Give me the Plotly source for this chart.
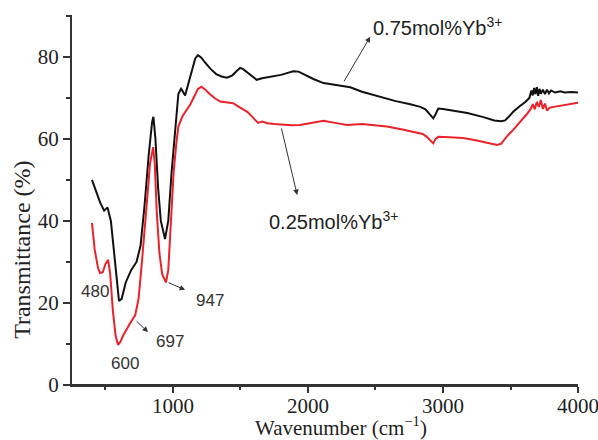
import plotly.graph_objects as go

# 0.75 mol% Yb3+ (black)
wn_black = [400, 430, 460, 490, 515, 540, 570, 600, 620, 650, 690, 730, 760, 790, 820, 845, 855, 870, 890, 910,
            941, 965, 990, 1020, 1040, 1060, 1075, 1090, 1110, 1140, 1165, 1185, 1210, 1240, 1280, 1320, 1360, 1400,
            1440, 1470, 1497, 1520, 1550, 1580, 1620, 1660, 1700, 1750, 1800, 1850, 1890, 1930, 1980, 2040,
            2115, 2200, 2313, 2400, 2535, 2650, 2750, 2832, 2870, 2900, 2928, 2945, 2965, 3000, 3100, 3180,
            3300, 3380, 3430, 3460, 3490, 3520, 3570, 3610, 3640, 3655, 3665, 3675, 3685, 3695, 3705, 3715,
            3725, 3740, 3755, 3770, 3785, 3800, 3830, 3870, 3900, 3950, 4000]
t_black = [50.0, 47.0, 44.5, 42.5, 43.3, 40.0, 30.0, 20.5, 21.0, 25.0, 28.0, 30.0, 34.0, 44.0, 56.0, 64.0, 65.4, 60.0, 48.0, 40.0,
           35.6, 40.0, 52.0, 64.0, 71.0, 72.2, 71.2, 70.6, 73.0, 77.0, 79.6, 80.4, 79.8, 78.5, 77.0, 75.8, 75.2, 74.9,
           75.5, 76.5, 77.3, 77.0, 76.2, 75.5, 74.4, 74.8, 75.0, 75.3, 75.6, 76.1, 76.5, 76.4, 75.5, 74.6,
           73.6, 73.1, 72.6, 71.5, 70.2, 69.2, 68.5, 67.8, 67.2, 66.0, 65.0, 66.0, 67.4, 67.3, 66.8, 66.3,
           65.3, 64.5, 64.3, 64.5, 65.5, 66.6, 68.0, 69.0, 70.0, 71.8, 70.6, 72.4, 70.9, 72.6, 70.5, 72.2,
           71.0, 72.0, 70.9, 72.0, 71.1, 71.8, 71.3, 71.6, 71.3, 71.4, 71.3]

# 0.25 mol% Yb3+ (red)
wn_red = [400, 420, 445, 460, 480, 500, 520, 535, 555, 575, 593, 610, 630, 660, 690, 720, 745, 770, 790, 808,
          830, 853, 865, 880, 900, 920, 948, 965, 985, 1005, 1025, 1040, 1070, 1100, 1130, 1160, 1185, 1210,
          1240, 1270, 1310, 1350, 1400, 1445, 1480, 1520, 1550, 1590, 1630, 1660, 1700, 1750, 1815, 1880,
          1940, 2000, 2060, 2115, 2200, 2290, 2400, 2500, 2585, 2700, 2800, 2850, 2880, 2900, 2928, 2945,
          2965, 3050, 3150, 3250, 3350, 3400, 3430, 3470, 3520, 3570, 3620, 3650, 3665, 3680, 3695, 3710,
          3725, 3740, 3755, 3770, 3790, 3820, 3860, 3900, 3950, 4000]
t_red = [39.5, 33.0, 28.5, 27.3, 27.5, 29.5, 30.5, 27.0, 18.0, 12.0, 9.8, 10.5, 12.0, 13.9, 15.5, 17.0, 21.0, 30.0, 39.0, 45.0,
         54.0, 58.0, 54.0, 42.0, 32.0, 27.0, 25.0, 28.0, 40.0, 52.0, 59.0, 63.0, 65.5, 67.0, 68.5, 70.5, 72.2, 72.7,
         72.0, 71.0, 69.9, 69.1, 68.9, 68.7, 68.0, 67.3, 66.6, 65.3, 63.9, 64.2, 63.8, 63.6, 63.4, 63.3,
         63.4, 63.7, 64.0, 64.4, 63.9, 63.4, 63.6, 63.2, 63.0, 62.3, 61.6, 61.2, 60.5, 59.8, 58.9, 60.0,
         60.5, 60.4, 60.2, 59.6, 58.9, 58.5, 58.8, 60.5, 62.2, 64.0, 66.0, 67.3, 68.5, 67.2, 69.0, 67.8,
         69.5, 67.3, 68.6, 66.9, 67.6, 67.8, 68.0, 68.3, 68.5, 68.8]

x_ticks = [1000, 2000, 3000, 4000]
y_ticks = [0, 20, 40, 60, 80]

AX = "#333333"
SERIF = "Liberation Serif, Times New Roman, serif"
SANS = "Liberation Sans, Arial, sans-serif"

fig = go.Figure()
fig.add_trace(go.Scatter(x=wn_black, y=t_black, mode="lines",
                         line=dict(color="#111111", width=2), showlegend=False))
fig.add_trace(go.Scatter(x=wn_red, y=t_red, mode="lines",
                         line=dict(color="#e8232b", width=2), showlegend=False))

annotations = []
# arrows (head at x,y ; tail at ax,ay)
arrows = [
    (2461, 84.9, 2261, 73.7),
    (1920, 46.3, 1801, 62.9),
    (1090, 23.2, 956, 25.1),
    (815, 12.9, 719, 15.9),
]
for hx, hy, tx, ty in arrows:
    annotations.append(dict(x=hx, y=hy, ax=tx, ay=ty, xref="x", yref="y", axref="x", ayref="y",
                            text="", showarrow=True, arrowhead=2, arrowsize=1.1, arrowwidth=1,
                            arrowcolor="#333333"))

annotations.append(dict(x=2470, y=87.5, xref="x", yref="y", xanchor="left", yanchor="middle",
                        text="0.75mol%Yb<sup>3+</sup>", showarrow=False,
                        font=dict(family=SANS, size=20, color="#222222")))
annotations.append(dict(x=1700, y=40.2, xref="x", yref="y", xanchor="left", yanchor="middle",
                        text="0.25mol%Yb<sup>3+</sup>", showarrow=False,
                        font=dict(family=SANS, size=20, color="#222222")))
for txt, xx, yy in [("480", 422, 22.7), ("600", 645, 5.2), ("697", 978, 10.5), ("947", 1275, 20.7)]:
    annotations.append(dict(x=xx, y=yy, xref="x", yref="y", xanchor="center", yanchor="middle",
                            text=txt, showarrow=False,
                            font=dict(family=SANS, size=17, color="#333333")))

# axis titles
annotations.append(dict(x=-0.099, y=0.365, xref="paper", yref="paper", xanchor="center", yanchor="middle",
                        text="Transmittance (%)", textangle=-90, showarrow=False,
                        font=dict(family=SERIF, size=24, color="#222222")))
annotations.append(dict(x=0.532, y=-0.112, xref="paper", yref="paper", xanchor="center", yanchor="middle",
                        text="Wavenumber (cm<sup>−1</sup>)", showarrow=False,
                        font=dict(family=SERIF, size=21, color="#222222")))

fig.update_layout(
    width=598, height=440,
    margin=dict(l=72, r=20, t=15, b=55, autoexpand=False),
    paper_bgcolor="white", plot_bgcolor="white",
    annotations=annotations,
    shapes=[dict(type="line", xref="paper", yref="paper", x0=-0.014, x1=1, y0=0, y1=0,
                 line=dict(color=AX, width=2))],
)
fig.update_xaxes(range=[252, 4000], tickmode="array", tickvals=x_ticks, ticktext=[str(v) for v in x_ticks],
                 ticks="outside", ticklen=6, tickwidth=1.5, tickcolor=AX,
                 minor=dict(tickvals=[500, 1500, 2500, 3500], ticks="outside", ticklen=3, tickwidth=1.5, tickcolor=AX),
                 showline=True, linecolor=AX, linewidth=2, showgrid=False, zeroline=False,
                 ticklabeloverflow="allow", ticklabelstandoff=-5, automargin=False,
                 tickfont=dict(family=SERIF, size=21, color="#222222"))
fig.update_yaxes(range=[0, 90.2], tickmode="array", tickvals=y_ticks, ticktext=[str(v) for v in y_ticks],
                 ticks="outside", ticklen=7, tickwidth=1.5, tickcolor=AX,
                 minor=dict(tickvals=[10, 30, 50, 70, 90], ticks="outside", ticklen=4, tickwidth=1.5, tickcolor=AX),
                 showline=True, linecolor=AX, linewidth=2, showgrid=False, zeroline=False,
                 ticklabeloverflow="allow", automargin=False,
                 tickfont=dict(family=SERIF, size=21, color="#222222"))

fig.write_html("out.html")
